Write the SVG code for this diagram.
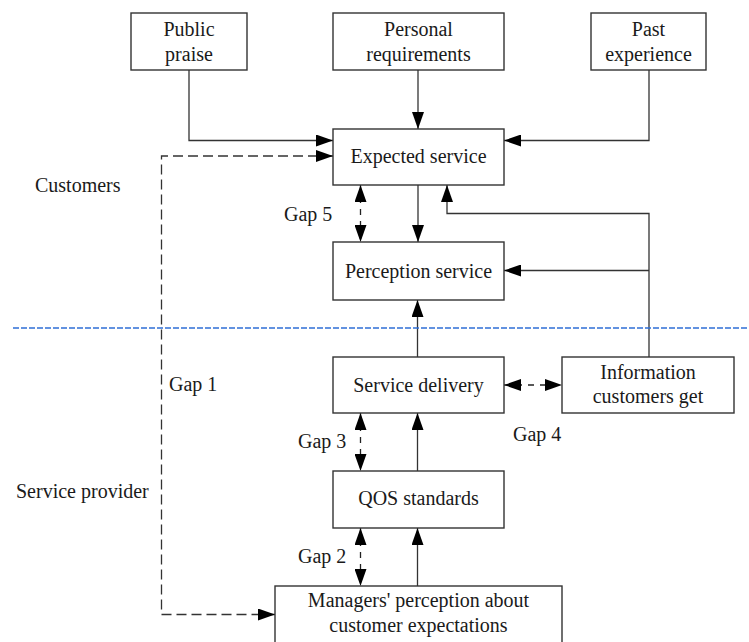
<svg xmlns="http://www.w3.org/2000/svg" width="749" height="642" viewBox="0 0 749 642">
<defs>
<style>
.box{fill:#fff;stroke:#333;stroke-width:1.4}
.ln{fill:none;stroke:#333;stroke-width:1.3}
.dash{fill:none;stroke:#333;stroke-width:1.3;stroke-dasharray:10,5}
.gap{fill:none;stroke:#222;stroke-width:1.3;stroke-dasharray:6,6}
.t{font-family:"Liberation Serif","Times New Roman",serif;font-size:20px;fill:#1a1a1a}
.c{text-anchor:middle}
</style>
<marker id="ah" markerUnits="userSpaceOnUse" markerWidth="17" markerHeight="12" refX="17" refY="6" orient="auto-start-reverse" viewBox="0 0 17 12">
<path d="M0,0 L17,6 L0,12 z" fill="#000"/>
</marker>
</defs>
<rect width="749" height="642" fill="#fff"/>

<g id="connectors">
<path class="ln" d="M189,70 V140.5 H333" marker-end="url(#ah)"/>
<path class="ln" d="M418,70 V129" marker-end="url(#ah)"/>
<path class="ln" d="M649,70 V140.5 H504" marker-end="url(#ah)"/>
<path class="dash" d="M333,156 H161.5 V614.5 H275" marker-start="url(#ah)" marker-end="url(#ah)"/>
<path class="ln" d="M418,185 V242" marker-end="url(#ah)"/>
<path class="gap" d="M360.5,185 V242" marker-start="url(#ah)" marker-end="url(#ah)"/>
<path class="ln" d="M649,357 V213.5 H447 V185" marker-end="url(#ah)"/>
<path class="ln" d="M649,270.5 H504" marker-end="url(#ah)"/>
<path class="ln" d="M417.5,357 V300" marker-end="url(#ah)"/>
<path class="gap" d="M504,385 H562" marker-start="url(#ah)" marker-end="url(#ah)"/>
<path class="gap" d="M360.5,413 V471" marker-start="url(#ah)" marker-end="url(#ah)"/>
<path class="ln" d="M417.5,471 V413" marker-end="url(#ah)"/>
<path class="gap" d="M360.5,528 V586" marker-start="url(#ah)" marker-end="url(#ah)"/>
<path class="ln" d="M417.5,586 V528" marker-end="url(#ah)"/>
<line x1="13" y1="328" x2="749" y2="328" stroke="#2f6fd6" stroke-width="1.3" stroke-dasharray="6,2"/>
</g>

<g id="public-praise">
<rect class="box" x="131" y="13" width="116" height="57"/>
<text class="t c" x="189" y="36">Public</text>
<text class="t c" x="189" y="61">praise</text>
</g>
<g id="personal-requirements">
<rect class="box" x="333" y="13" width="171" height="57"/>
<text class="t c" x="418.5" y="36">Personal</text>
<text class="t c" x="418.5" y="61">requirements</text>
</g>
<g id="past-experience">
<rect class="box" x="591" y="13" width="115" height="57"/>
<text class="t c" x="648.5" y="36">Past</text>
<text class="t c" x="648.5" y="61">experience</text>
</g>
<g id="expected-service">
<rect class="box" x="333" y="129" width="171" height="56"/>
<text class="t c" x="418.5" y="163">Expected service</text>
</g>
<g id="perception-service">
<rect class="box" x="333" y="242" width="171" height="58"/>
<text class="t c" x="418.5" y="278">Perception service</text>
</g>
<g id="service-delivery">
<rect class="box" x="333" y="357" width="171" height="56"/>
<text class="t c" x="418.5" y="392">Service delivery</text>
</g>
<g id="information-customers-get">
<rect class="box" x="562" y="357" width="172" height="56"/>
<text class="t c" x="648" y="379">Information</text>
<text class="t c" x="648" y="403">customers get</text>
</g>
<g id="qos-standards">
<rect class="box" x="333" y="471" width="171" height="57"/>
<text class="t c" x="418.5" y="505">QOS standards</text>
</g>
<g id="managers-perception">
<rect class="box" x="275" y="586" width="287" height="70"/>
<text class="t c" x="418.5" y="607">Managers' perception about</text>
<text class="t c" x="418.5" y="632">customer expectations</text>
</g>

<g id="labels">
<text class="t" x="35" y="192">Customers</text>
<text class="t" x="284" y="221">Gap 5</text>
<text class="t" x="169" y="391">Gap 1</text>
<text class="t" x="298" y="448">Gap 3</text>
<text class="t" x="513" y="441">Gap 4</text>
<text class="t" x="16" y="498">Service provider</text>
<text class="t" x="298" y="563">Gap 2</text>
</g>
</svg>
